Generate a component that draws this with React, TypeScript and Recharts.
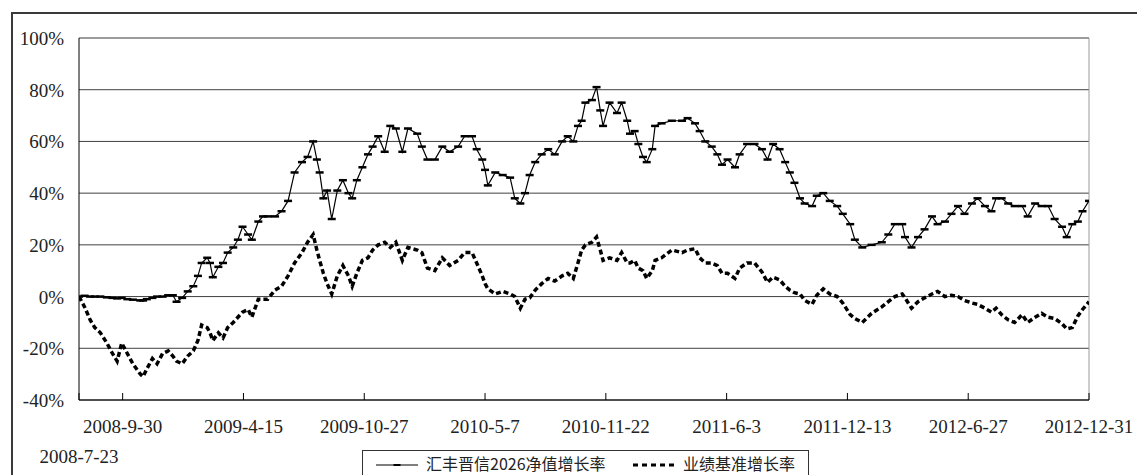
import React from 'react';
import { LineChart, Line, XAxis, YAxis, CartesianGrid, ReferenceLine } from 'recharts';

const dayIdx = [
  0, 6, 12, 17, 23, 30, 36, 41, 46, 52,
  58, 66, 69, 73, 79, 84, 90, 96, 101, 105,
  111, 117, 123, 128, 132, 138, 141, 144, 150, 155,
  160, 166, 171, 176, 182, 186, 193, 198, 203, 211,
  218, 225, 232, 240, 246, 252, 256, 259, 263, 267,
  272, 278, 284, 290, 294, 299, 305, 311, 316, 322,
  329, 335, 341, 348, 354, 364, 369, 375, 383, 391,
  399, 408, 415, 423, 428, 434, 437, 440, 448, 456,
  464, 469, 475, 480, 485, 491, 498, 505, 512, 520,
  526, 532, 537, 541, 545, 552, 557, 561, 564, 571,
  579, 584, 590, 593, 598, 602, 607, 611, 617, 620,
  627, 638, 649, 655, 663, 668, 674, 681, 687, 692,
  698, 706, 711, 719, 727, 735, 741, 747, 754, 760,
  765, 770, 776, 781, 789, 794, 801, 808, 816, 822,
  830, 835, 843, 853, 864, 871, 878, 886, 889, 896,
  903, 910, 918, 924, 932, 939, 946, 953, 961, 967,
  975, 982, 987, 993, 1000, 1007, 1015, 1021, 1029, 1036,
  1043, 1050, 1058, 1063, 1069, 1075, 1080, 1087,
];

const fundGrowth = [
  0, 0.3, 0, 0, 0, -0.3, -0.5, -0.7, -0.5, -1,
  -1.2, -1.5, -1.5, -1, -0.5, 0, 0, 0.5, 0.5, -2,
  -0.5, 2, 4, 8, 13, 15, 13, 7.5, 11.5, 13,
  17, 19, 22, 27, 24, 22, 29, 31, 31, 31,
  33, 37, 48, 52, 54, 60, 53, 48, 38, 41,
  30, 41, 45, 40, 38, 45, 50, 55, 58, 62,
  56, 66, 65, 56, 65, 63, 58, 53, 53, 58,
  56, 58, 62, 62, 57, 53, 49, 43, 48, 47,
  46, 38, 36, 40, 47, 52, 55, 57, 55, 60,
  62, 60, 66, 68, 75, 76, 81, 72, 66, 75,
  71, 75, 68, 63, 64, 59, 54, 52, 57, 66,
  67, 68, 68, 69, 67, 64, 60, 58, 55, 51,
  53, 50, 55, 59, 59, 57, 53, 59, 57, 52,
  48, 44, 38, 36, 35, 39, 40, 37, 35, 32,
  28, 22, 19, 20, 21, 24, 28, 28, 23, 19,
  23, 26, 31, 28, 29, 32, 35, 32, 36, 38,
  35, 33, 38, 38, 36, 35, 35, 31, 36, 35,
  35, 30, 27, 23, 28, 29, 33, 37,
];

const benchGrowth = [
  0, -4, -9, -12, -14, -18, -22, -25, -18, -22,
  -26, -30, -31, -28, -24, -26, -22, -21, -23, -25,
  -26, -23, -21, -17, -11, -12, -14, -17, -14, -16,
  -12, -10, -8, -6, -5, -8, -1, -1, -1, 2.5,
  4, 8, 13, 17, 21, 24, 18, 14, 9, 5,
  1, 8, 12, 8, 4, 9, 14, 15, 18, 20,
  21, 19, 21, 14, 19, 18, 17, 11, 10, 15,
  12, 14, 17, 17, 13, 8, 5, 3, 1, 2,
  1, 0, -4.5, -1, -0.5, 2.5, 5, 7, 6, 8,
  9, 7, 13, 18, 20, 21, 23, 18, 14, 15,
  14, 17, 13, 13, 14, 11, 10, 7, 10, 14,
  15, 18, 17, 18, 18.5, 15, 13, 13, 12, 9,
  9, 7, 11, 13, 13, 9.5, 5.5, 7.5, 6.5, 4,
  2.5, 1.5, 1, -1.5, -3, 0.5, 3, 1, 0, -2.5,
  -7, -8.5, -10, -6.5, -4, -2, 0, 1, -0.5, -4.5,
  -2, -0.5, 1, 2, 0, 0.5, 0, -1.5, -2.5, -3,
  -4.5, -6, -4.5, -7, -9, -10, -7, -10, -8, -6.5,
  -8, -8.5, -10.5, -12.5, -12, -7.5, -5, -2,
];

const tickIdx = [0, 47, 177, 307, 437, 567, 697, 827, 957, 1087];
const tickLabels = [
  '2008-7-23', '2008-9-30', '2009-4-15', '2009-10-27', '2010-5-7',
  '2010-11-22', '2011-6-3', '2011-12-13', '2012-6-27', '2012-12-31',
];
const yTicks = [-40, -20, 0, 20, 40, 60, 80, 100];
const seriesNames = ['汇丰晋信2026净值增长率', '业绩基准增长率'];

const data = dayIdx.map((d, i) => ({ d, fund: fundGrowth[i], bench: benchGrowth[i] }));

const tickFont = '"Liberation Serif", "DejaVu Serif", serif';
const cjkFont = '"Noto Sans CJK SC", "Noto Sans", sans-serif';

const XTick = (props: any) => {
  const { x, y, payload } = props;
  const i = tickIdx.indexOf(payload.value);
  return (
    <text
      x={x}
      y={i === 0 ? y + 63 : y + 33}
      textAnchor="middle"
      fontFamily={tickFont}
      fontSize={19}
      fill="#222"
    >
      {tickLabels[i]}
    </text>
  );
};

const YTick = (props: any) => {
  const { x, y, payload } = props;
  return (
    <text x={x} y={y + 7} textAnchor="end" fontFamily={tickFont} fontSize={19} fill="#222">
      {`${payload.value}%`}
    </text>
  );
};

const FundDot = (p: any) => {
  if (p.cx == null || p.cy == null) return <g key={p.index} />;
  return (
    <line
      key={p.index}
      x1={p.cx - 4}
      x2={p.cx + 4}
      y1={p.cy}
      y2={p.cy}
      stroke="#000"
      strokeWidth={2.5}
    />
  );
};

export default function App() {
  return (
    <div
      style={{
        position: 'absolute',
        left: 0,
        top: 0,
        width: 1137,
        height: 475,
        overflow: 'hidden',
        background: '#fff',
      }}
    >
      <div
        style={{
          position: 'absolute',
          left: 11,
          top: 12,
          width: 1200,
          height: 600,
          border: '2px solid #3a3a3a',
        }}
      />
      <div style={{ position: 'absolute', left: 0, top: 0 }}>
        <LineChart
          width={1137}
          height={475}
          data={data}
          margin={{ top: 38, right: 48, left: 0, bottom: 45 }}
        >
          <CartesianGrid vertical={false} stroke="#404040" strokeWidth={1} />
          <XAxis
            dataKey="d"
            type="number"
            domain={[0, 1087]}
            ticks={tickIdx}
            interval={0}
            height={30}
            tickSize={-7}
            tickMargin={7}
            tickLine={{ stroke: '#000' }}
            axisLine={{ stroke: '#000' }}
            tick={<XTick />}
            allowDataOverflow
          />
          <YAxis
            type="number"
            domain={[-40, 100]}
            ticks={yTicks}
            interval={0}
            width={79}
            tickSize={0}
            tickMargin={15}
            tickLine={false}
            axisLine={{ stroke: '#000' }}
            tick={<YTick />}
            allowDataOverflow
          />
          <ReferenceLine y={100} stroke="#999" />
          <ReferenceLine x={1087} stroke="#999" />
          <Line
            dataKey="bench"
            name={seriesNames[1]}
            type="linear"
            stroke="#000"
            strokeWidth={3.5}
            strokeDasharray="5 3"
            dot={false}
            activeDot={false}
            isAnimationActive={false}
          />
          <Line
            dataKey="fund"
            name={seriesNames[0]}
            type="linear"
            stroke="#000"
            strokeWidth={1.2}
            dot={FundDot}
            activeDot={false}
            isAnimationActive={false}
          />
        </LineChart>
      </div>
      <div
        style={{
          position: 'absolute',
          left: 362,
          top: 450,
          width: 445,
          height: 40,
          border: '1px solid #333',
          background: '#fff',
        }}
      >
        <svg width={445} height={26} style={{ display: 'block' }}>
          <line x1={13} x2={55} y1={14} y2={14} stroke="#000" strokeWidth={1} />
          <line x1={30.5} x2={37.5} y1={14} y2={14} stroke="#000" strokeWidth={2} />
          <text x={63} y={19} fontFamily={cjkFont} fontSize={16} fill="#222">
            {seriesNames[0]}
          </text>
          <line
            x1={270}
            x2={313}
            y1={14}
            y2={14}
            stroke="#000"
            strokeWidth={3}
            strokeDasharray="5 4"
          />
          <text x={320} y={19} fontFamily={cjkFont} fontSize={16} fill="#222">
            {seriesNames[1]}
          </text>
        </svg>
      </div>
    </div>
  );
}
